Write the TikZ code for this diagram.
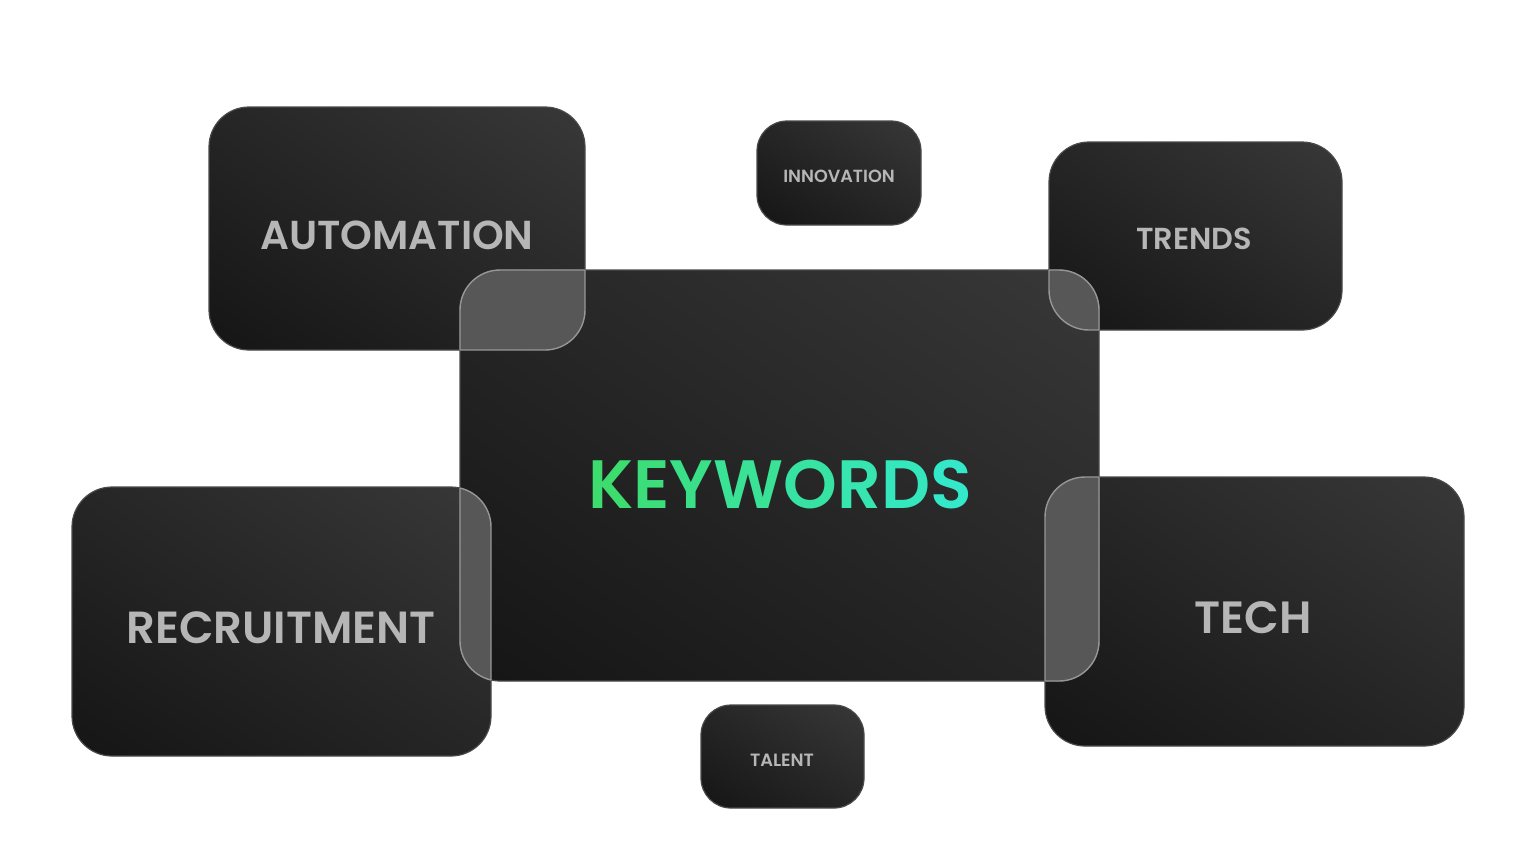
\documentclass[tikz,border=0pt]{standalone}
\usepackage{fontspec}
\setmainfont{Poppins}[BoldFont={Poppins SemiBold}]
\usetikzlibrary{shadings}
\definecolor{cardlo}{HTML}{151515}
\definecolor{cardmid}{HTML}{262626}
\definecolor{cardhi}{HTML}{383838}
\definecolor{cardedge}{HTML}{4A4A4A}
\definecolor{glass}{HTML}{575757}
\definecolor{glassedge}{HTML}{969696}
\definecolor{lblgrey}{HTML}{B6B6B6}
\definecolor{kwA}{HTML}{3DDC6E}
\definecolor{kwB}{HTML}{33E9C9}
\newcommand\kwletter[2]{\textcolor{kwB!#1!kwA}{#2}}
\tikzset{
  card/.style={shading=bilinear interpolation, lower left=cardlo, upper right=cardhi,
    upper left=cardmid, lower right=cardmid, draw=cardedge, line width=0.6pt},
  glassfill/.style={fill=glass},
  glassline/.style={draw=glassedge, line width=0.7pt},
  lbl/.style={font=\bfseries\fontsize{#1}{#1}\selectfont, text=lblgrey, inner sep=0pt}
}
\begin{document}
\begin{tikzpicture}[x=0.5pt,y=-0.5pt]
\useasboundingbox (0,0) rectangle (1536,864);
\fill[white] (0,0) rectangle (1536,864);
% corners of the cards (pixels, y down)
\coordinate (A1) at (209,107);  \coordinate (A2) at (585,350);
\coordinate (I1) at (757,121);  \coordinate (I2) at (921,225);
\coordinate (T1) at (1049,142); \coordinate (T2) at (1342,330);
\coordinate (K1) at (460,270);  \coordinate (K2) at (1099,681);
\coordinate (R1) at (72,487);   \coordinate (R2) at (491,756);
\coordinate (H1) at (1045,477); \coordinate (H2) at (1464,746);
\coordinate (L1) at (701,705);  \coordinate (L2) at (864,808);
% cards
\path[card, rounded corners=20pt] (A1) rectangle (A2);
\path[card, rounded corners=15pt] (I1) rectangle (I2);
\path[card, rounded corners=20pt] (T1) rectangle (T2);
\path[card, rounded corners=20pt] (R1) rectangle (R2);
\path[card, rounded corners=20pt] (H1) rectangle (H2);
\path[card, rounded corners=15pt] (L1) rectangle (L2);
\path[card, rounded corners=20pt] (K1) rectangle (K2);
% glass where a card meets the centre card
\begin{scope}
\clip[rounded corners=20pt] (K1) rectangle (K2);
\fill[glassfill, rounded corners=20pt] (A1) rectangle (A2);
\fill[glassfill, rounded corners=20pt] (T1) rectangle (T2);
\fill[glassfill, rounded corners=20pt] (R1) rectangle (R2);
\fill[glassfill, rounded corners=20pt] (H1) rectangle (H2);
\draw[glassline, rounded corners=20pt] (A1) rectangle (A2);
\draw[glassline, rounded corners=20pt] (T1) rectangle (T2);
\draw[glassline, rounded corners=20pt] (R1) rectangle (R2);
\draw[glassline, rounded corners=20pt] (H1) rectangle (H2);
\end{scope}
\begin{scope}
\clip[rounded corners=20pt] (A1) rectangle (A2);
\draw[glassline, rounded corners=20pt] (K1) rectangle (K2);
\end{scope}
\begin{scope}
\clip[rounded corners=20pt] (T1) rectangle (T2);
\draw[glassline, rounded corners=20pt] (K1) rectangle (K2);
\end{scope}
\begin{scope}
\clip[rounded corners=20pt] (R1) rectangle (R2);
\draw[glassline, rounded corners=20pt] (K1) rectangle (K2);
\end{scope}
\begin{scope}
\clip[rounded corners=20pt] (H1) rectangle (H2);
\draw[glassline, rounded corners=20pt] (K1) rectangle (K2);
\end{scope}
% labels
\node[lbl=20.2] (automation) at (397,235) {AUTOMATION};
\node[lbl=8.8] (innovation) at (839,176) {INNOVATION};
\node[lbl=15.2] (trends) at (1194,239) {TRENDS};
\node[lbl=22.5] (recruitment) at (281,628) {RECRUITMENT};
\node[lbl=22.6] (tech) at (1253,618) {TECH};
\node[lbl=8.9] (talent) at (782,760) {TALENT};
\node[lbl=34.2] (keywords) at (780,485) {\kwletter{0}{K}\kwletter{14}{E}\kwletter{28}{Y}\kwletter{43}{W}\kwletter{57}{O}\kwletter{71}{R}\kwletter{86}{D}\kwletter{100}{S}};
\end{tikzpicture}
\end{document}
